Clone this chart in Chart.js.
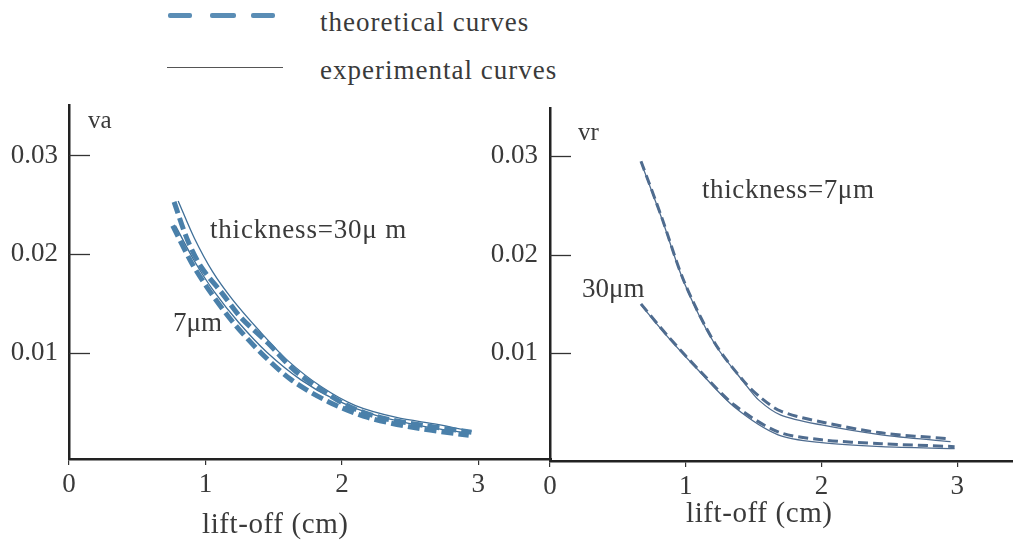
<!DOCTYPE html>
<html>
<head>
<meta charset="utf-8">
<script src="https://cdn.jsdelivr.net/npm/chart.js@4"></script>
<style>
  body { margin: 0; background: #fff; width: 1013px; height: 541px; overflow: hidden; position: relative;
         font-family: "Liberation Serif", "DejaVu Serif", serif; color: #3a3a3a; }
  .box { position: absolute; }
  .txt { position: absolute; white-space: nowrap; line-height: 1; }
  .dash { position: absolute; height: 5px; border-radius: 2px; background: #5a8db5; }
</style>
</head>
<body>

<!-- legend -->
<div class="dash" style="left:168px; top:13px; width:24px;"></div>
<div class="dash" style="left:210px; top:13px; width:26px;"></div>
<div class="dash" style="left:251px; top:13px; width:24px;"></div>
<div class="txt" style="left:320px; top:9px; font-size:27px; letter-spacing:1px;">theoretical curves</div>
<div style="position:absolute; left:167px; top:67px; width:116px; height:1px; background:#555;"></div>
<div class="txt" style="left:320px; top:57px; font-size:27px; letter-spacing:1px;">experimental curves</div>

<div class="box" style="left:0; top:90px; width:552px; height:451px;"><canvas id="chart_va"></canvas></div>
<div class="box" style="left:480px; top:90px; width:533px; height:451px;"><canvas id="chart_vr"></canvas></div>

<!-- axis names and curve labels -->
<div class="txt" style="left:88px; top:107px; font-size:25px;">va</div>
<div class="txt" style="left:578px; top:119px; font-size:25px;">vr</div>
<div class="txt" style="left:210px; top:216px; font-size:27px; letter-spacing:0.8px;">thickness=30μ m</div>
<div class="txt" style="left:173px; top:309px; font-size:27px;">7μm</div>
<div class="txt" style="left:702px; top:176px; font-size:27px; letter-spacing:0.6px;">thickness=7μm</div>
<div class="txt" style="left:582px; top:275px; font-size:27px;">30μm</div>
<div class="txt" style="left:202px; top:509px; font-size:29px; letter-spacing:0.6px;">lift-off (cm)</div>
<div class="txt" style="left:686px; top:498px; font-size:29px; letter-spacing:0.6px;">lift-off (cm)</div>

<script>
// va panel (left)
const vaTheo30X = [0.77, 0.87, 0.97, 1.12, 1.26, 1.46, 1.65, 1.85, 2.07, 2.31, 2.60, 2.95];
const vaTheo30Y = [0.0253, 0.0214, 0.0187, 0.0161, 0.0136, 0.0110, 0.0083, 0.0063, 0.0045, 0.0034, 0.0027, 0.0020];
const vaTheo7X = [0.76, 0.90, 1.04, 1.21, 1.41, 1.63, 1.90, 2.19, 2.56, 2.93];
const vaTheo7Y = [0.0229, 0.0191, 0.0161, 0.0130, 0.0100, 0.0073, 0.0051, 0.0035, 0.0024, 0.0017];
const vaExp30X = [0.80, 0.92, 1.05, 1.20, 1.40, 1.60, 1.85, 2.10, 2.40, 2.70, 2.95];
const vaExp30Y = [0.0254, 0.0216, 0.0183, 0.0154, 0.0122, 0.0093, 0.0066, 0.0047, 0.0035, 0.0028, 0.0021];
const vaExp7X = [0.78, 0.92, 1.06, 1.25, 1.45, 1.70, 1.95, 2.25, 2.60, 2.93];
const vaExp7Y = [0.0229, 0.0193, 0.0163, 0.0130, 0.0101, 0.0073, 0.0053, 0.0037, 0.0026, 0.0019];

// vr panel (right)
const vrExp7X = [0.67, 0.82, 0.99, 1.21, 1.43, 1.54, 1.70, 2.00, 2.44, 2.95];
const vrExp7Y = [0.0294, 0.0238, 0.0171, 0.0110, 0.0070, 0.0052, 0.0037, 0.0027, 0.0017, 0.0010];
const vrTheo7X = [0.67, 0.82, 0.99, 1.21, 1.43, 1.55, 1.70, 2.00, 2.44, 2.93];
const vrTheo7Y = [0.0295, 0.0239, 0.0172, 0.0111, 0.0071, 0.0055, 0.0041, 0.0030, 0.0019, 0.0013];
const vrExp30X = [0.67, 0.87, 1.11, 1.36, 1.68, 2.00, 2.44, 2.98];
const vrExp30Y = [0.0149, 0.0116, 0.0080, 0.0045, 0.0017, 0.0009, 0.0005, 0.0003];
const vrTheo30X = [0.67, 0.87, 1.11, 1.36, 1.68, 2.00, 2.44, 2.98];
const vrTheo30Y = [0.0150, 0.0117, 0.0081, 0.0047, 0.0020, 0.0012, 0.0008, 0.0005];

const xTicks = [0, 1, 2, 3];
const yTicks = [0.01, 0.02, 0.03];

const FONT = { family: '"Liberation Serif", "DejaVu Serif", serif', size: 27 };
const INK = '#3a3a3a';

const pts = (xs, ys) => xs.map((x, i) => ({ x: x, y: ys[i] }));

// short tick marks drawn inside the plot, right of the y axis
const innerTicks = {
    id: 'innerTicks',
    afterDraw(chart) {
        const ctx = chart.ctx, area = chart.chartArea, y = chart.scales.y;
        ctx.save();
        ctx.strokeStyle = '#333';
        ctx.lineWidth = 1.3;
        yTicks.forEach(v => {
            const py = Math.round(y.getPixelForValue(v)) + 0.5;
            ctx.beginPath();
            ctx.moveTo(area.left, py);
            ctx.lineTo(area.left + 21, py);
            ctx.stroke();
        });
        ctx.restore();
    }
};

function theo(data, color, width, dash) {
    return { data: data, borderColor: color, borderWidth: width, borderDash: dash,
             pointRadius: 0, tension: 0.3, fill: false };
}
function exper(data, color) {
    return { data: data, borderColor: color, borderWidth: 1.3, pointRadius: 0, tension: 0.3, fill: false };
}

function drawPanel(canvasId, datasets, o) {
    const ctx = document.getElementById(canvasId).getContext('2d');
    return new Chart(ctx, {
        type: 'line',
        data: { datasets: datasets },
        plugins: [innerTicks],
        options: {
            responsive: true,
            maintainAspectRatio: false,
            animation: false,
            layout: { padding: { top: o.padTop, right: 0, left: 0, bottom: 0 } },
            plugins: { legend: { display: false }, tooltip: { enabled: false } },
            scales: {
                x: {
                    type: 'linear', min: 0, max: o.xMax,
                    afterFit: s => { s.height = o.xHeight; s.paddingLeft = 0; s.paddingRight = 0; },
                    afterBuildTicks: s => { s.ticks = xTicks.map(v => ({ value: v })); },
                    ticks: { font: FONT, color: INK, padding: 4, maxRotation: 0 },
                    grid: { drawOnChartArea: false, drawTicks: true, tickLength: 6, color: '#333', lineWidth: 1.2 },
                    border: { display: true, color: '#222', width: 2.5 }
                },
                y: {
                    type: 'linear', min: o.yMin, max: o.yMax,
                    afterFit: s => { s.width = o.yWidth; s.paddingTop = 0; s.paddingBottom = 0; },
                    afterBuildTicks: s => { s.ticks = yTicks.map(v => ({ value: v })); },
                    ticks: { font: FONT, color: INK, padding: o.yPad, callback: v => v.toFixed(2) },
                    grid: { display: false },
                    border: { display: true, color: '#222', width: 2.5 }
                }
            }
        }
    });
}

const vaColor = '#4a80aa', vaLine = '#3f6f98';
drawPanel('chart_va', [
    theo(pts(vaTheo30X, vaTheo30Y), vaColor, 5, [12, 5]),
    theo(pts(vaTheo7X, vaTheo7Y), vaColor, 5, [12, 5]),
    exper(pts(vaExp30X, vaExp30Y), vaLine),
    exper(pts(vaExp7X, vaExp7Y), vaLine)
], { padTop: 15, xMax: 3.54, xHeight: 82, yMin: -0.0007, yMax: 0.0351, yWidth: 69, yPad: 3 });

const vrColor = '#4f6c8f';
drawPanel('chart_vr', [
    theo(pts(vrTheo7X, vrTheo7Y), vrColor, 3, [10, 5]),
    theo(pts(vrTheo30X, vrTheo30Y), vrColor, 3, [10, 5]),
    exper(pts(vrExp7X, vrExp7Y), vrColor),
    exper(pts(vrExp30X, vrExp30Y), vrColor)
], { padTop: 18, xMax: 3.41, xHeight: 80, yMin: -0.00096, yMax: 0.0349, yWidth: 70, yPad: 4 });
</script>
</body>
</html>
